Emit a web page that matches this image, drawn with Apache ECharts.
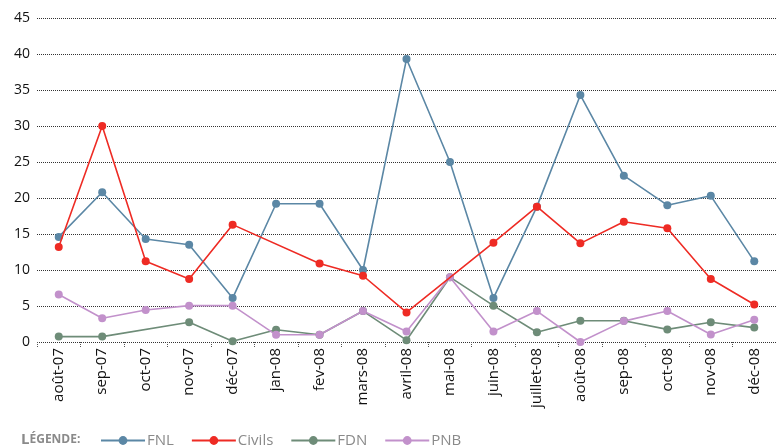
<!DOCTYPE html>
<html><head><meta charset="utf-8">
<script src="https://cdn.jsdelivr.net/npm/echarts@6/dist/echarts.min.js"></script>
<style>html,body{margin:0;padding:0;background:#fff}#c{width:776px;height:447px}</style>
</head><body><div id="c"></div>
<script>
const categories = ['août-07','sep-07','oct-07','nov-07','déc-07','jan-08','fev-08','mars-08','avril-08','mai-08','juin-08','juillet-08','août-08','sep-08','oct-08','nov-08','déc-08'];
const fnl    = [14.6, 20.8, 14.3, 13.5, 6.1, 19.2, 19.2, 10.0, 39.3, 25.0, 6.1, 18.8, 34.3, 23.1, 19.0, 20.3, 11.2];
const civils = [13.2, 30.0, 11.2, 8.75, 16.3, null, 10.9, 9.2, 4.1, null, 13.8, 18.8, 13.7, 16.7, 15.8, 8.75, 5.2];
const fdn    = [0.75, 0.75, null, 2.75, 0.1, 1.7, 1.0, 4.3, 0.25, 9.0, 5.05, 1.35, 2.95, 2.95, 1.75, 2.75, 2.0];
const pnb    = [6.6, 3.3, 4.45, 5.05, 5.05, 1.0, 1.0, 4.3, 1.45, 9.0, 1.45, 4.3, 0.0, 2.9, 4.3, 1.05, 3.1];
const yTicks = {min: 0, max: 45, interval: 5};

const FONT = 'Open Sans';
const chart = echarts.init(document.getElementById('c'), null, {renderer: 'canvas'});
function mk(name, data, color, z) {
  return {
    name, type: 'line', data, connectNulls: true, z,
    symbol: 'circle', symbolSize: 8,
    itemStyle: {color},
    lineStyle: {color, width: 1.6},
    emphasis: {disabled: true}
  };
}
chart.setOption({
  animation: false,
  textStyle: {fontFamily: FONT},
  title: {
    text: '{a|L}{b|ÉGENDE:}', left: 21, top: 432, padding: 0,
    textStyle: {rich: {
      a: {fontFamily: FONT, fontSize: 15, color: '#8a8a8a', letterSpacing: 1.5},
      b: {fontFamily: FONT, fontSize: 12, color: '#8a8a8a', letterSpacing: 1.8}
    }}
  },
  legend: {
    left: 100, top: 433, padding: 0, itemWidth: 44, itemHeight: 11, itemGap: 17,
    textStyle: {fontFamily: FONT, fontSize: 15, color: '#8a8a8a', padding: [0,0,0,-3]},
    data: ['FNL','Civils','FDN','PNB']
  },
  grid: {left: 37, right: 0, top: 18, bottom: 105, containLabel: false},
  xAxis: {
    type: 'category', data: categories, boundaryGap: true,
    axisLine: {show: false},
    axisTick: {show: true, length: 5, lineStyle: {color: '#555', type: 'dotted'}},
    axisLabel: {rotate: 90, color: '#111', fontSize: 15, fontFamily: FONT, margin: 6}
  },
  yAxis: {
    type: 'value', min: yTicks.min, max: yTicks.max, interval: yTicks.interval,
    axisLine: {show: false}, axisTick: {show: false},
    axisLabel: {color: '#111', fontSize: 14, fontFamily: FONT, margin: 7},
    splitLine: {lineStyle: {color: '#333', type: [1, 1], width: 1}}
  },
  series: [
    mk('FNL', fnl, '#5b87a5', 2),
    mk('Civils', civils, '#ee2b24', 3),
    mk('FDN', fdn, '#6e8c78', 2),
    mk('PNB', pnb, '#c291cb', 2)
  ]
});
</script></body></html>
